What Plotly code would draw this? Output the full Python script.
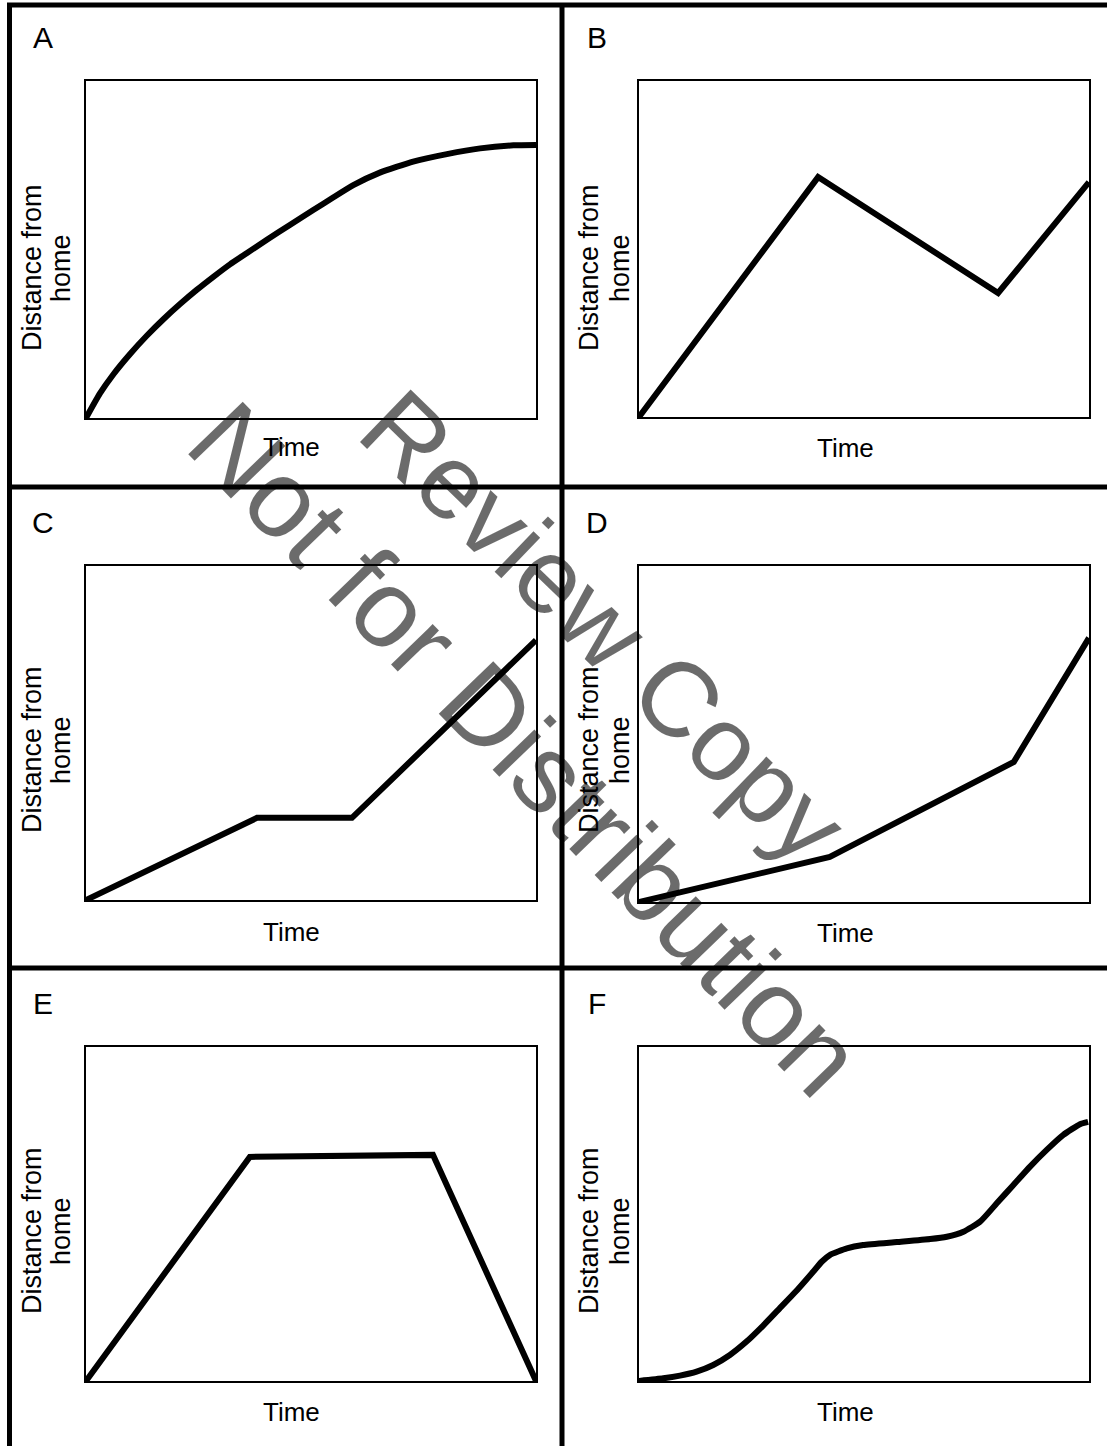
import plotly.graph_objects as go

W, H = 1107, 1446

# ---- data (time, distance) in 0-100 units for each panel ----
a_time = [0, 3.1, 6.1, 9.8, 13.5, 17.2, 20.9, 24.6, 28.3, 32.0, 35.7, 40.2, 45.3, 50.5,
          55.0, 59.4, 65.3, 72.7, 80.2, 87.6, 95.0, 100]
a_dist = [0, 7.3, 13.0, 19.0, 24.4, 29.3, 33.8, 38.0, 41.9, 45.6, 48.9, 52.9, 57.3, 61.7,
          65.5, 69.1, 72.8, 76.1, 78.3, 80.0, 80.9, 81.0]

b_time = [0, 39.8, 79.8, 100]
b_dist = [0, 71.4, 36.9, 69.9]

c_time = [0, 38.0, 59.1, 100]
c_dist = [0, 24.6, 24.6, 77.8]

d_time = [0, 42.4, 83.3, 100]
d_dist = [0, 13.4, 41.7, 78.6]

e_time = [0, 36.4, 77.1, 100]
e_dist = [0, 67.1, 67.7, 0]

f_time = [0, 5.4, 9.1, 12.8, 16.5, 20.2, 23.9, 27.6, 31.3, 35.0, 38.7, 40.6, 42.4, 46.2,
          49.8, 57.3, 64.7, 68.4, 72.1, 75.8, 79.5, 83.2, 86.9, 90.6, 94.3, 98.0, 99.8]
f_dist = [0, 0.8, 1.6, 2.8, 4.8, 7.8, 11.8, 16.6, 21.8, 27.0, 32.7, 35.7, 37.7, 39.7,
          40.7, 41.6, 42.5, 43.2, 44.7, 47.7, 53.2, 58.7, 64.2, 69.2, 73.7, 76.9, 77.6]

panel_letters = ["A", "B", "C", "D", "E", "F"]
x_title = "Time"
y_title_lines = ["Distance from", "home"]
watermark_1 = "Review Copy"
watermark_2 = "Not for Distribution"

# ---- layout geometry (pixels) ----
boxes = [  # x0, x1, y0(top), y1(bottom)
    (86, 536, 81, 418),
    (639, 1089, 81, 417),
    (86, 536, 566, 900),
    (639, 1089, 566, 902),
    (86, 536, 1047, 1381),
    (639, 1089, 1047, 1381),
]
letter_pos = [(43, 37), (597, 37), (43, 522), (597, 522), (43, 1003), (597, 1003)]
time_pos = [(291, 447), (845, 448), (291, 932), (845, 933), (291, 1412), (845, 1412)]
ylab_y = [268, 268, 750, 750, 1231, 1231]
ylab_x = [(32, 61), (589, 620), (32, 61), (589, 620), (32, 61), (589, 620)]
smooth = [True, False, False, False, False, True]

series = [(a_time, a_dist), (b_time, b_dist), (c_time, c_dist),
          (d_time, d_dist), (e_time, e_dist), (f_time, f_dist)]

FONT = "Liberation Sans, Arial, sans-serif"

def px(x):
    return x / W

def py(y):
    return 1 - y / H

fig = go.Figure()
layout = dict(
    width=W, height=H, margin=dict(l=0, r=0, t=0, b=0),
    paper_bgcolor="white", plot_bgcolor="white", showlegend=False,
    font=dict(family=FONT, color="black"),
)
annotations = []
shapes = []

for i, ((xs, ys), (x0, x1, y0, y1)) in enumerate(zip(series, boxes)):
    n = "" if i == 0 else str(i + 1)
    fig.add_trace(go.Scatter(
        x=xs, y=ys, mode="lines", xaxis="x" + n, yaxis="y" + n,
        line=dict(color="black", width=6,
                  shape="spline" if smooth[i] else "linear", smoothing=0.5),
        hoverinfo="skip",
    ))
    common = dict(range=[0, 100], showgrid=False, zeroline=False,
                  showticklabels=False, ticks="", showline=True,
                  linecolor="black", linewidth=2, mirror=True, fixedrange=True)
    layout["xaxis" + n] = dict(common, domain=[px(x0), px(x1)], anchor="y" + n)
    layout["yaxis" + n] = dict(common, domain=[py(y1), py(y0)], anchor="x" + n)

    lx, ly = letter_pos[i]
    annotations.append(dict(text=panel_letters[i], x=px(lx), y=py(ly),
                            xref="paper", yref="paper", showarrow=False,
                            xanchor="center", yanchor="middle",
                            font=dict(size=30, family=FONT, color="black")))
    tx, ty = time_pos[i]
    annotations.append(dict(text=x_title, x=px(tx), y=py(ty),
                            xref="paper", yref="paper", showarrow=False,
                            xanchor="center", yanchor="middle",
                            font=dict(size=26, family=FONT, color="black")))
    for line_text, lxx in zip(y_title_lines, ylab_x[i]):
        annotations.append(dict(text=line_text, x=px(lxx), y=py(ylab_y[i]),
                                xref="paper", yref="paper", showarrow=False,
                                xanchor="center", yanchor="middle", textangle=-90,
                                font=dict(size=27, family=FONT, color="black")))

# watermark (semi-transparent so black strokes show through)
annotations.append(dict(text=watermark_1, x=px(604), y=py(626), xref="paper", yref="paper",
                        showarrow=False, textangle=44, xanchor="center", yanchor="middle",
                        font=dict(size=106, family=FONT, color="rgba(0,0,0,0.58)")))
annotations.append(dict(text=watermark_2, x=px(526), y=py(748), xref="paper", yref="paper",
                        showarrow=False, textangle=46, xanchor="center", yanchor="middle",
                        font=dict(size=110, family=FONT, color="rgba(0,0,0,0.58)")))

# thick cell frame
frame = dict(type="line", xref="paper", yref="paper", line=dict(color="black", width=5))
shapes.append(dict(frame, x0=px(7), x1=1, y0=py(5), y1=py(5)))
shapes.append(dict(frame, x0=px(9.5), x1=px(9.5), y0=py(3), y1=0))
shapes.append(dict(frame, x0=px(562), x1=px(562), y0=py(3), y1=0))
shapes.append(dict(frame, x0=px(7), x1=1, y0=py(487), y1=py(487)))
shapes.append(dict(frame, x0=px(7), x1=1, y0=py(968), y1=py(968)))

layout["annotations"] = annotations
layout["shapes"] = shapes
fig.update_layout(**layout)
fig.write_html("out.html", config={"displayModeBar": False},
               post_script="document.body.style.margin='0px';document.body.style.overflow='hidden';")
